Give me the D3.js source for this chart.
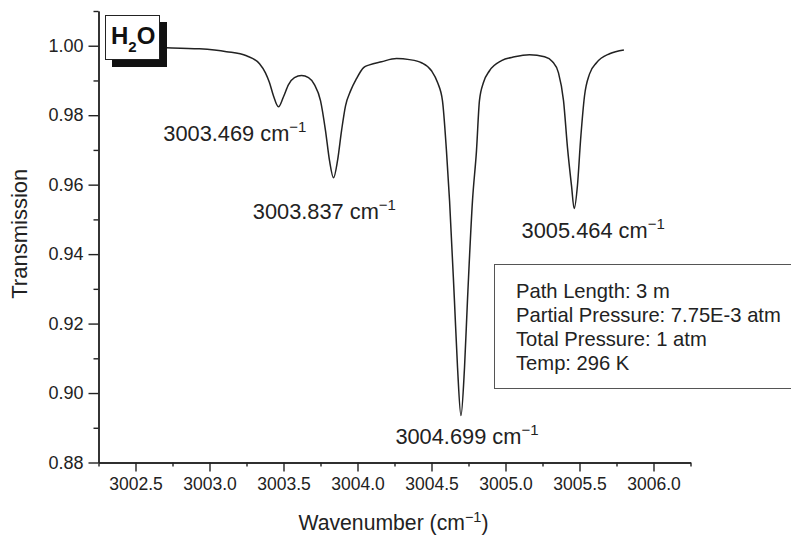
<!DOCTYPE html>
<html>
<head>
<meta charset="utf-8">
<script src="https://cdn.jsdelivr.net/npm/d3@7"></script>
<style>
  html, body { margin: 0; padding: 0; background: #fff; }
  svg { display: block; font-family: "Liberation Sans", Arial, Helvetica, sans-serif; }
</style>
</head>
<body>
<svg id="chart" width="791" height="535"></svg>
<script>
// H2O absorption spectrum around 3004 cm-1
const wavenumber = [
  3002.527, 3002.709, 3002.932, 3003.115, 3003.250, 3003.338, 3003.378, 3003.405,
  3003.432, 3003.466, 3003.500, 3003.534, 3003.574, 3003.622, 3003.669, 3003.709,
  3003.750, 3003.784, 3003.811, 3003.838, 3003.865, 3003.892, 3003.919, 3003.953,
  3003.993, 3004.041, 3004.081, 3004.162, 3004.264, 3004.351, 3004.432, 3004.500,
  3004.541, 3004.574, 3004.601, 3004.622, 3004.655, 3004.676, 3004.699, 3004.723,
  3004.743, 3004.777, 3004.804, 3004.824, 3004.851, 3004.892, 3004.973, 3005.061,
  3005.162, 3005.264, 3005.318, 3005.358, 3005.392, 3005.419, 3005.446, 3005.464,
  3005.486, 3005.507, 3005.534, 3005.568, 3005.615, 3005.703, 3005.800
];
const transmission = [
  0.9995, 0.9994, 0.9991, 0.9983, 0.9971, 0.9948, 0.9922, 0.9894,
  0.9856, 0.9824, 0.9853, 0.9888, 0.9908, 0.9914, 0.9908, 0.9888,
  0.9842, 0.9755, 0.9669, 0.9620, 0.9669, 0.9755, 0.9827, 0.9870,
  0.9905, 0.9937, 0.9945, 0.9954, 0.9963, 0.9960, 0.9951, 0.9928,
  0.9894, 0.9842, 0.9698, 0.9554, 0.9266, 0.9073, 0.8935, 0.9073,
  0.9266, 0.9554, 0.9698, 0.9842, 0.9894, 0.9928, 0.9957, 0.9968,
  0.9974, 0.9968, 0.9954, 0.9922, 0.9842, 0.9706, 0.9597, 0.9531,
  0.9597, 0.9727, 0.9856, 0.9919, 0.9951, 0.9977, 0.9988
];

// Line centres and their depths
const peakWavenumber = [3003.469, 3003.837, 3004.699, 3005.464];
const peakTransmission = [0.9824, 0.9620, 0.8935, 0.9531];
const peakLabels = ["3003.469", "3003.837", "3004.699", "3005.464"];

// Axis ticks
const xMajorTicks = [3002.5, 3003.0, 3003.5, 3004.0, 3004.5, 3005.0, 3005.5, 3006.0];
const xTickLabels = ["3002.5", "3003.0", "3003.5", "3004.0", "3004.5", "3005.0", "3005.5", "3006.0"];
const yMajorTicks = [0.88, 0.90, 0.92, 0.94, 0.96, 0.98, 1.00];
const yTickLabels = ["0.88", "0.90", "0.92", "0.94", "0.96", "0.98", "1.00"];

// Measurement conditions
const conditions = [
  "Path Length: 3 m",
  "Partial Pressure: 7.75E-3 atm",
  "Total Pressure: 1 atm",
  "Temp: 296 K"
];

const ink = "#222";
const svg = d3.select("#chart");
const plotLeft = 98.5, plotRight = 690.5, plotTop = 11, plotBottom = 462.5;

const x = d3.scaleLinear().domain([3002.25, 3006.25]).range([plotLeft, plotRight]);
const y = d3.scaleLinear().domain([0.88, 1.01]).range([plotBottom, plotTop]);

// Minor ticks
const xMinor = d3.range(3002.25, 3006.26, 0.25).filter(v => !xMajorTicks.some(t => Math.abs(t - v) < 1e-6));
const yMinor = d3.range(0.89, 1.011, 0.02);

function styleAxis(g) {
  g.selectAll("path, line").attr("stroke", ink).attr("stroke-width", 1.4);
  g.selectAll("text").attr("fill", ink);
}

svg.append("g")
  .attr("transform", `translate(0,${plotBottom})`)
  .call(d3.axisBottom(x).tickValues(xMinor).tickSize(4).tickFormat("").tickSizeOuter(0))
  .call(styleAxis);
svg.append("g")
  .attr("transform", `translate(0,${plotBottom})`)
  .call(d3.axisBottom(x).tickValues(xMajorTicks).tickSize(9).tickPadding(6).tickSizeOuter(0)
    .tickFormat((d, i) => xTickLabels[i]))
  .call(styleAxis)
  .call(g => g.selectAll("text").attr("font-size", 17.5).attr("font-family", "Liberation Sans, Arial, sans-serif"));

svg.append("g")
  .attr("transform", `translate(${plotLeft},0)`)
  .call(d3.axisLeft(y).tickValues(yMinor).tickSize(5).tickFormat("").tickSizeOuter(0))
  .call(styleAxis);
svg.append("g")
  .attr("transform", `translate(${plotLeft},0)`)
  .call(d3.axisLeft(y).tickValues(yMajorTicks).tickSize(10).tickPadding(5).tickSizeOuter(0)
    .tickFormat((d, i) => yTickLabels[i]))
  .call(styleAxis)
  .call(g => g.selectAll("text").attr("font-size", 18).attr("font-family", "Liberation Sans, Arial, sans-serif"));

// Axis titles
const xTitle = svg.append("text")
  .attr("x", (plotLeft + plotRight) / 2 - 1).attr("y", 530)
  .attr("text-anchor", "middle").attr("font-size", 21.2).attr("fill", ink);
xTitle.append("tspan").text("Wavenumber (cm");
xTitle.append("tspan").attr("font-size", 14.5).attr("dy", -8.5).text("\u22121");
xTitle.append("tspan").attr("dy", 8.5).text(")");

svg.append("text")
  .attr("transform", `translate(27,${(plotTop + plotBottom) / 2 - 3}) rotate(-90)`)
  .attr("text-anchor", "middle").attr("font-size", 22).attr("fill", ink)
  .text("Transmission");

// Spectrum
const line = d3.line()
  .x((d, i) => x(wavenumber[i]))
  .y((d, i) => y(transmission[i]))
  .curve(d3.curveMonotoneX);

svg.append("path")
  .datum(wavenumber)
  .attr("d", line)
  .attr("fill", "none")
  .attr("stroke", ink)
  .attr("stroke-width", 1.5);

// Peak labels, offset from each line centre
const labelOffsets = [[-44, 34], [-9, 41], [6, 28], [19, 29]];
peakLabels.forEach((lab, i) => {
  const t = svg.append("text")
    .attr("x", x(peakWavenumber[i]) + labelOffsets[i][0])
    .attr("y", y(peakTransmission[i]) + labelOffsets[i][1])
    .attr("text-anchor", "middle")
    .attr("font-size", 21.8)
    .attr("fill", ink);
  t.append("tspan").text(lab + " cm");
  t.append("tspan").attr("font-size", 15).attr("dy", -9).text("\u22121");
});

// Species tag with drop shadow
svg.append("rect").attr("x", 112).attr("y", 22).attr("width", 55).attr("height", 45).attr("fill", "#111");
svg.append("rect").attr("x", 105.5).attr("y", 15.5).attr("width", 54).attr("height", 44)
  .attr("fill", "#fff").attr("stroke", ink).attr("stroke-width", 1);
const tag = svg.append("text").attr("x", 111).attr("y", 44)
  .attr("font-size", 24).attr("font-weight", "bold").attr("fill", "#111");
tag.append("tspan").text("H");
tag.append("tspan").attr("font-size", 15).attr("dy", 8).text("2");
tag.append("tspan").attr("dy", -8).text("O");

// Conditions box
svg.append("rect").attr("x", 494.5).attr("y", 264.5).attr("width", 320).attr("height", 124)
  .attr("fill", "#fff").attr("stroke", "#555").attr("stroke-width", 1);
svg.append("g").selectAll("text")
  .data(conditions)
  .join("text")
  .attr("x", 516)
  .attr("y", (d, i) => 297.5 + i * 24.3)
  .attr("font-size", 20.2)
  .attr("fill", ink)
  .text(d => d);
</script>
</body>
</html>
